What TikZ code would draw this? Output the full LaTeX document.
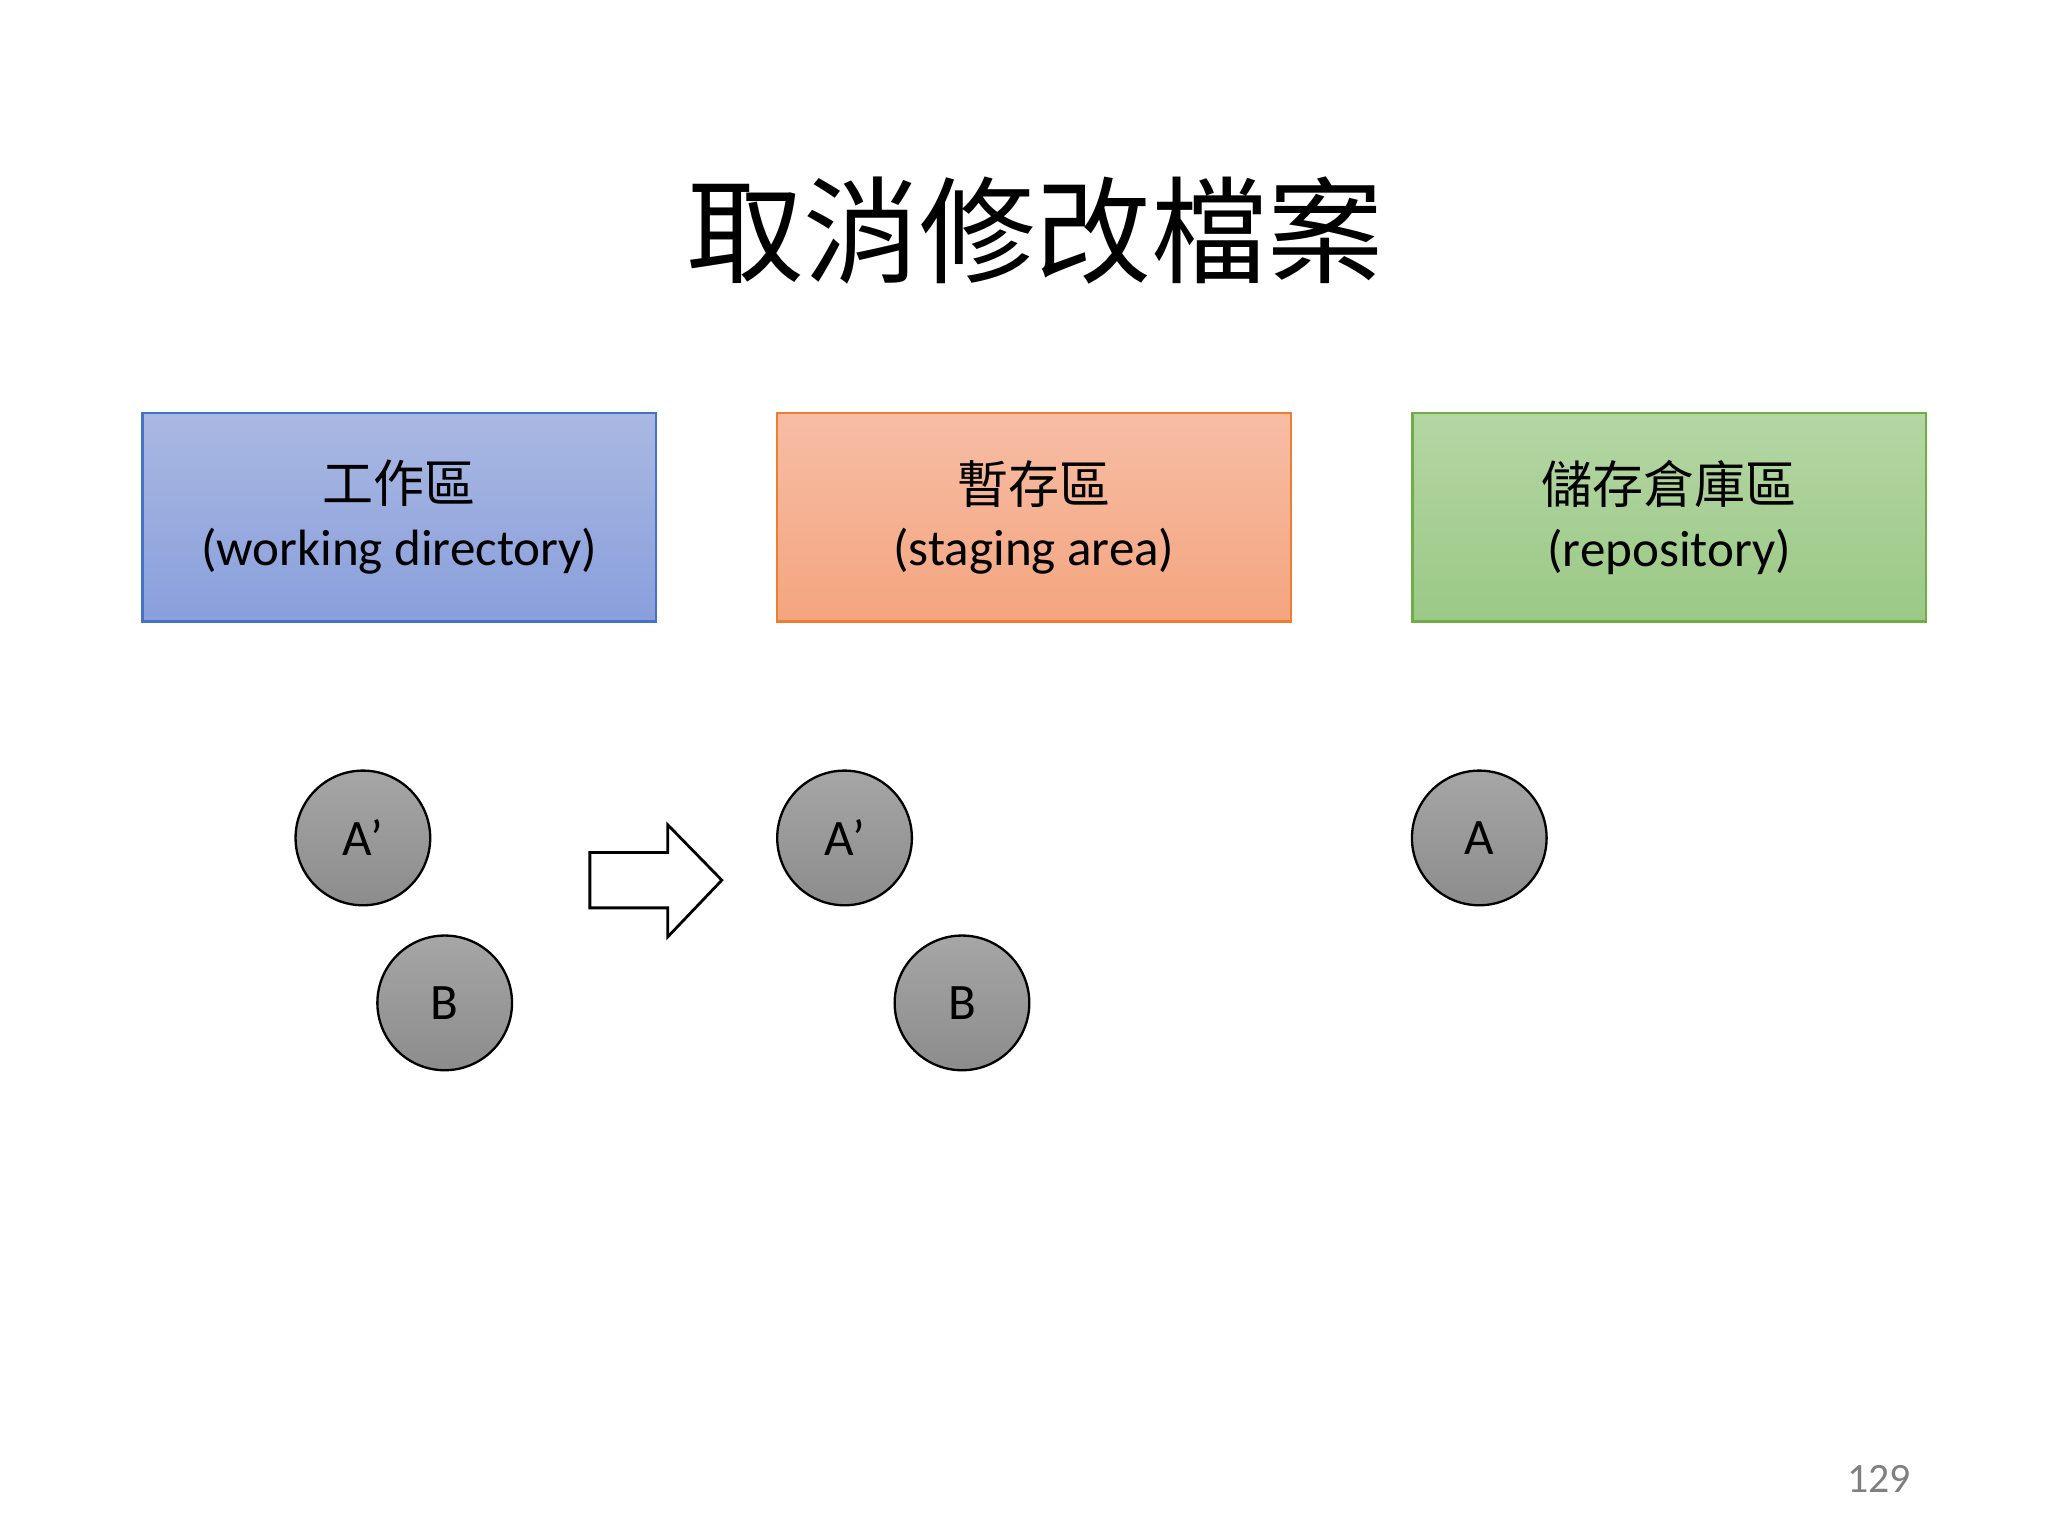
\documentclass[tikz,border=0pt]{standalone}
\usepackage{fontspec}
\setmainfont{Carlito}
\newfontfamily\cjk{Noto Sans CJK TC}
\begin{document}
\begin{tikzpicture}[x=0.01cm,y=-0.01cm,
  area/.style={minimum width=3.89cm,minimum height=1.58cm,align=center,font=\fontsize{11}{13.5}\selectfont,line width=0.5pt},
  file/.style={circle,draw=black,line width=0.5pt,minimum size=1.02cm,top color=gray!70,bottom color=gray!110!black,font=\fontsize{11}{13}\selectfont}]
\useasboundingbox (0,0) rectangle (1552,1164);
\node (title) at (785,175) {\cjk\fontsize{25}{30}\selectfont 取消修改檔案};
\node[area,draw={rgb,255:red,68;green,114;blue,196},top color={rgb,255:red,170;green,184;blue,226},bottom color={rgb,255:red,137;green,159;blue,220}] (wd) at (302.5,392) {{\cjk 工作區}\\(working directory)};
\node[area,draw={rgb,255:red,237;green,125;blue,49},top color={rgb,255:red,247;green,189;blue,165},bottom color={rgb,255:red,244;green,165;blue,127}] (st) at (783.5,392) {{\cjk 暫存區}\\(staging area)};
\node[area,draw={rgb,255:red,112;green,173;blue,71},top color={rgb,255:red,180;green,214;blue,164},bottom color={rgb,255:red,155;green,201;blue,133}] (rp) at (1265,392) {{\cjk 儲存倉庫區}\\(repository)};
\node[file] (a1) at (275,635) {A’};
\node[file] (b1) at (337,760) {B};
\node[file] (a2) at (640,635) {A’};
\node[file] (b2) at (729,760) {B};
\node[file] (a3) at (1121,635) {A};
\draw[line width=0.6pt,fill=white] (447,646) -- (506,646) -- (506,625) -- (547,667) -- (506,710) -- (506,688) -- (447,688) -- cycle;
\node[text=gray,font=\fontsize{9}{11}\selectfont] (pg) at (1424,1121) {129};
\end{tikzpicture}
\end{document}
